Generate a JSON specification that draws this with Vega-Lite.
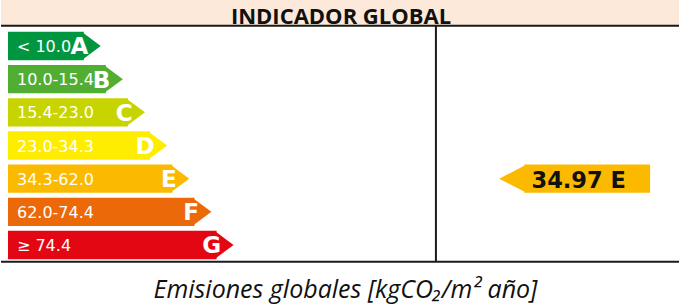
{
  "$schema": "https://vega.github.io/schema/vega-lite/v6.json",
  "width": 680,
  "height": 306,
  "autosize": {"type": "fit", "contains": "padding"},
  "padding": 0,
  "background": "white",
  "config": {"view": {"stroke": null}, "scale": {"continuousPadding": 0}},
  "datasets": {
    "clases": [
      {"clase": "A", "rango": "< 10.0", "nivel": 1},
      {"clase": "B", "rango": "10.0-15.4", "nivel": 2},
      {"clase": "C", "rango": "15.4-23.0", "nivel": 3},
      {"clase": "D", "rango": "23.0-34.3", "nivel": 4},
      {"clase": "E", "rango": "34.3-62.0", "nivel": 5},
      {"clase": "F", "rango": "62.0-74.4", "nivel": 6},
      {"clase": "G", "rango": "≥ 74.4", "nivel": 7}
    ],
    "indicador": [
      {"valor": 34.97, "clase": "E", "nivel": 5, "etiqueta": "34.97 E"}
    ],
    "marco": [{}]
  },
  "layer": [
    {
      "data": {"name": "marco"},
      "mark": {"type": "rect", "fill": "#fde9d9"},
      "encoding": {
        "x": {"datum": -2.7387, "type": "quantitative", "scale": {"domain": [-2.7387, 27.8919], "padding": 0}, "axis": null},
        "x2": {"datum": 27.8919},
        "y": {"datum": -0.3868, "type": "quantitative", "scale": {"domain": [-0.3868, 8.8383], "reverse": true, "padding": 0}, "axis": null},
        "y2": {"datum": 0.391}
      }
    },
    {
      "data": {"name": "marco"},
      "mark": {"type": "text", "text": "INDICADOR GLOBAL", "font": "Open Sans", "fontWeight": "bold", "fontSize": 22, "align": "center", "baseline": "alphabetic", "fill": "#111111"},
      "encoding": {
        "x": {"datum": 12.622, "type": "quantitative", "scale": {"domain": [-2.7387, 27.8919], "padding": 0}, "axis": null},
        "y": {"datum": 0.3217, "type": "quantitative", "scale": {"domain": [-0.3868, 8.8383], "reverse": true, "padding": 0}, "axis": null}
      }
    },
    {
      "data": {"name": "marco"},
      "mark": {"type": "rule", "stroke": "#1a1a1a", "strokeWidth": 2},
      "encoding": {
        "x": {"datum": -2.7387, "type": "quantitative", "scale": {"domain": [-2.7387, 27.8919], "padding": 0}, "axis": null},
        "x2": {"datum": 27.8919},
        "y": {"datum": 0.391, "type": "quantitative", "scale": {"domain": [-0.3868, 8.8383], "reverse": true, "padding": 0}, "axis": null}
      }
    },
    {
      "data": {"name": "marco"},
      "mark": {"type": "rule", "stroke": "#1a1a1a", "strokeWidth": 2},
      "encoding": {
        "x": {"datum": -2.7387, "type": "quantitative", "scale": {"domain": [-2.7387, 27.8919], "padding": 0}, "axis": null},
        "x2": {"datum": 27.8919},
        "y": {"datum": 7.503, "type": "quantitative", "scale": {"domain": [-0.3868, 8.8383], "reverse": true, "padding": 0}, "axis": null}
      }
    },
    {
      "data": {"name": "marco"},
      "mark": {"type": "rule", "stroke": "#1a1a1a", "strokeWidth": 2},
      "encoding": {
        "x": {"datum": 16.91, "type": "quantitative", "scale": {"domain": [-2.7387, 27.8919], "padding": 0}, "axis": null},
        "y": {"datum": 0.391, "type": "quantitative", "scale": {"domain": [-0.3868, 8.8383], "reverse": true, "padding": 0}, "axis": null},
        "y2": {"datum": 7.503}
      }
    },
    {
      "data": {"name": "clases"},
      "mark": {"type": "bar", "orient": "horizontal", "size": 28.3},
      "encoding": {
        "x": {"field": "nivel", "type": "quantitative", "scale": {"domain": [-2.7387, 27.8919], "padding": 0}, "axis": null},
        "x2": {"datum": -2.4234},
        "y": {"field": "nivel", "type": "quantitative", "scale": {"domain": [-0.3868, 8.8383], "reverse": true, "padding": 0}, "axis": null},
        "color": {"field": "clase", "type": "nominal", "scale": {"domain": ["A", "B", "C", "D", "E", "F", "G"], "range": ["#00963f", "#52ae32", "#c8d400", "#ffed00", "#fbba00", "#eb6909", "#e30613"]}, "legend": null}
      }
    },
    {
      "data": {"name": "clases"},
      "mark": {"type": "point", "filled": true, "opacity": 1, "strokeWidth": 0, "shape": "M-0.15,-1L1.2,0L-0.15,1Z", "size": 801},
      "encoding": {
        "x": {"field": "nivel", "type": "quantitative", "scale": {"domain": [-2.7387, 27.8919], "padding": 0}, "axis": null},
        "y": {"field": "nivel", "type": "quantitative", "scale": {"domain": [-0.3868, 8.8383], "reverse": true, "padding": 0}, "axis": null},
        "color": {"field": "clase", "type": "nominal", "scale": {"domain": ["A", "B", "C", "D", "E", "F", "G"], "range": ["#00963f", "#52ae32", "#c8d400", "#ffed00", "#fbba00", "#eb6909", "#e30613"]}, "legend": null}
      }
    },
    {
      "data": {"name": "clases"},
      "mark": {"type": "text", "font": "DejaVu Sans", "fontSize": 16, "align": "left", "baseline": "alphabetic", "dy": 6, "fill": "white"},
      "encoding": {
        "x": {"datum": -2.018, "type": "quantitative", "scale": {"domain": [-2.7387, 27.8919], "padding": 0}, "axis": null},
        "y": {"field": "nivel", "type": "quantitative", "scale": {"domain": [-0.3868, 8.8383], "reverse": true, "padding": 0}, "axis": null},
        "text": {"field": "rango", "type": "nominal"}
      }
    },
    {
      "data": {"name": "clases"},
      "mark": {"type": "text", "font": "DejaVu Sans", "fontWeight": "bold", "fontSize": 23, "align": "right", "baseline": "alphabetic", "dx": 4.5, "dy": 8.4, "fill": "white"},
      "encoding": {
        "x": {"field": "nivel", "type": "quantitative", "scale": {"domain": [-2.7387, 27.8919], "padding": 0}, "axis": null},
        "y": {"field": "nivel", "type": "quantitative", "scale": {"domain": [-0.3868, 8.8383], "reverse": true, "padding": 0}, "axis": null},
        "text": {"field": "clase", "type": "nominal"}
      }
    },
    {
      "data": {"name": "indicador"},
      "mark": {"type": "bar", "orient": "horizontal", "size": 28.3},
      "encoding": {
        "x": {"datum": 20.9099, "type": "quantitative", "scale": {"domain": [-2.7387, 27.8919], "padding": 0}, "axis": null},
        "x2": {"datum": 26.5865},
        "y": {"field": "nivel", "type": "quantitative", "scale": {"domain": [-0.3868, 8.8383], "reverse": true, "padding": 0}, "axis": null},
        "color": {"field": "clase", "type": "nominal", "scale": {"domain": ["A", "B", "C", "D", "E", "F", "G"], "range": ["#00963f", "#52ae32", "#c8d400", "#ffed00", "#fbba00", "#eb6909", "#e30613"]}, "legend": null}
      }
    },
    {
      "data": {"name": "indicador"},
      "mark": {"type": "point", "filled": true, "opacity": 1, "strokeWidth": 0, "shape": "M0.15,-1L-1.786,0L0.15,1Z", "size": 801},
      "encoding": {
        "x": {"datum": 20.9099, "type": "quantitative", "scale": {"domain": [-2.7387, 27.8919], "padding": 0}, "axis": null},
        "y": {"field": "nivel", "type": "quantitative", "scale": {"domain": [-0.3868, 8.8383], "reverse": true, "padding": 0}, "axis": null},
        "color": {"field": "clase", "type": "nominal", "scale": {"domain": ["A", "B", "C", "D", "E", "F", "G"], "range": ["#00963f", "#52ae32", "#c8d400", "#ffed00", "#fbba00", "#eb6909", "#e30613"]}, "legend": null}
      }
    },
    {
      "data": {"name": "indicador"},
      "mark": {"type": "text", "font": "DejaVu Sans", "fontWeight": "bold", "fontSize": 22.5, "align": "center", "baseline": "alphabetic", "dy": 9.5, "fill": "#111111"},
      "encoding": {
        "x": {"datum": 23.36, "type": "quantitative", "scale": {"domain": [-2.7387, 27.8919], "padding": 0}, "axis": null},
        "y": {"field": "nivel", "type": "quantitative", "scale": {"domain": [-0.3868, 8.8383], "reverse": true, "padding": 0}, "axis": null},
        "text": {"field": "etiqueta", "type": "nominal"}
      }
    },
    {
      "data": {"name": "marco"},
      "mark": {"type": "text", "text": "Emisiones globales [kgCO₂/m² año]", "font": "Open Sans", "fontStyle": "italic", "fontSize": 25, "align": "center", "baseline": "alphabetic", "fill": "#111111"},
      "encoding": {
        "x": {"datum": 12.824, "type": "quantitative", "scale": {"domain": [-2.7387, 27.8919], "padding": 0}, "axis": null},
        "y": {"datum": 8.588, "type": "quantitative", "scale": {"domain": [-0.3868, 8.8383], "reverse": true, "padding": 0}, "axis": null}
      }
    }
  ]
}
